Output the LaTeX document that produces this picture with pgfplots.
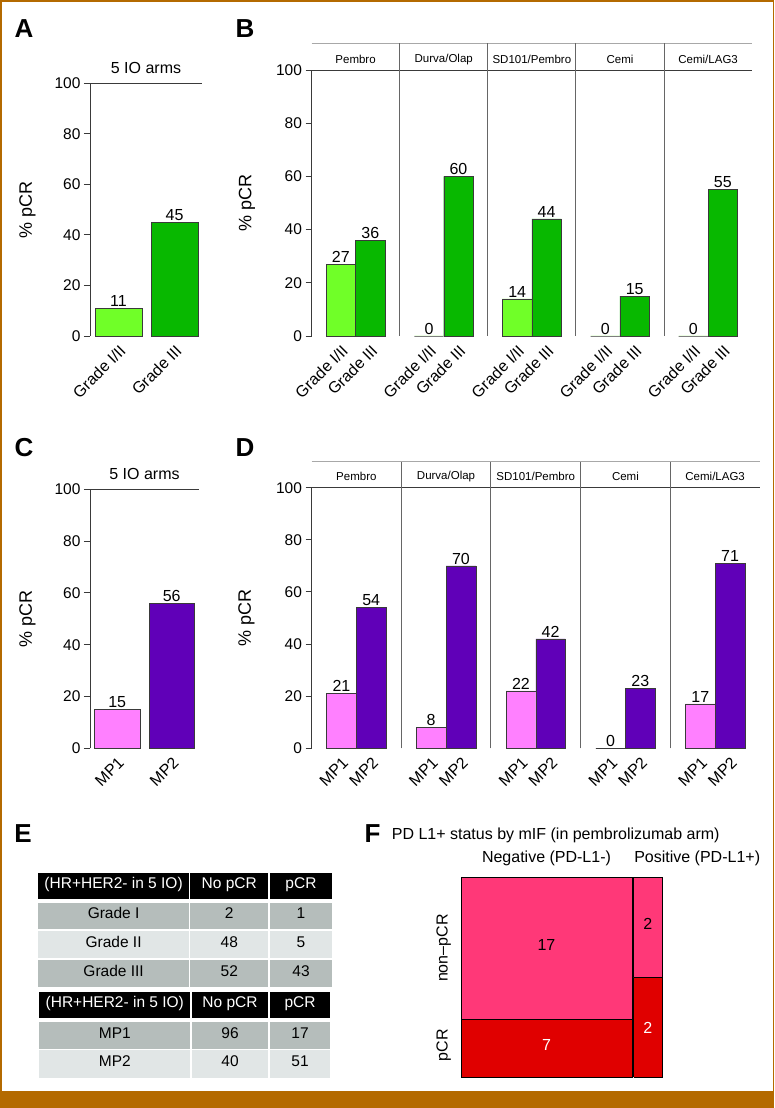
\documentclass[border=0pt]{standalone}
\usepackage{pgfplots}
\pgfplotsset{compat=1.18}
\usepackage{fontspec}
\setmainfont{Liberation Sans}
\newcommand\fs[1]{\fontsize{#1}{#1}\selectfont}
\definecolor{lgreen}{HTML}{70FF28}
\definecolor{dgreen}{HTML}{08B800}
\definecolor{mpink}{HTML}{FF80FF}
\definecolor{mpurple}{HTML}{6000B8}
\definecolor{fpink}{HTML}{FF3878}
\definecolor{fred}{HTML}{E00000}
\definecolor{frame}{HTML}{B46A00}
\definecolor{tdark}{HTML}{B5BDBB}
\definecolor{tlight}{HTML}{E1E6E6}
\definecolor{axgray}{HTML}{3A3A3A}
\definecolor{stripgray}{HTML}{A8A8A8}
\definecolor{sepgray}{HTML}{666666}
\pgfplotsset{
 barbase/.style={
   scale only axis, ymin=0, ymax=100, enlargelimits=false, clip=false,
   axis y line*=left, axis x line*=bottom,
   x axis line style={draw=none},
   y axis line style={draw=axgray, line width=0.9pt},
   ytick={0,20,40,60,80,100},
   tick align=outside,
   major tick length=6pt,
   ytick style={draw=axgray, line width=0.9pt},
   xtick style={draw=none},
   /pgf/number format/assume math mode=true,
   yticklabel style={font=\fs{15.5}},
   xticklabel style={font=\fs{16}, rotate=45, anchor=north east, inner sep=1pt},
   ybar, bar shift=0pt,
   nodes near coords,
   every node near coord/.append style={font=\fs{16}, inner sep=1.5pt},
 },
}
\begin{document}
\begin{tikzpicture}[x=1pt,y=1pt]
\useasboundingbox (0,0) rectangle (774,1108);
\fill[white] (0,0) rectangle (774,1108);
\fill[frame] (0,0) rectangle (774,17.3);
\fill[frame] (0,0) rectangle (1.6,1108);
\fill[frame] (772.5,0) rectangle (774,1108);
\fill[frame] (0,1106.4) rectangle (774,1108);

% panel letters
\node[font=\fs{26}\bfseries] at (24,1079.5) {A};
\node[font=\fs{26}\bfseries] at (245,1079.5) {B};
\node[font=\fs{26}\bfseries] at (24,660.5) {C};
\node[font=\fs{26}\bfseries] at (245,660.5) {D};
\node[font=\fs{26}\bfseries] at (23,274) {E};
\node[font=\fs{26}\bfseries] at (372.5,274) {F};

% ---------------- A
\begin{axis}[barbase, at={(90pt,772pt)}, anchor=south west, width=112pt, height=252.7pt,
  xmin=0.491, xmax=2.491, bar width=0.839, xtick={1,2}, xticklabels={Grade I/II, Grade III},
  every axis y label/.style={at={(axis description cs:-0.558,0.5)}, rotate=90, anchor=center, font=\fs{18}},
  ylabel={\% pCR}]
\addplot[fill=lgreen, draw=axgray] coordinates {(1,11)};
\addplot[fill=dgreen, draw=axgray] coordinates {(2,45)};
\draw[axgray, line width=0.9pt] (axis cs:0.491,100) -- (axis cs:2.491,100);
\node[font=\fs{16}, anchor=base] at (axis cs:1.491,103.8) {5 IO arms};
\end{axis}

% ---------------- B
\begin{axis}[barbase, at={(311.5pt,772pt)}, anchor=south west, width=440.7pt, height=266pt,
  xmin=-0.5, xmax=4.5, bar width=0.3336,
  xtick={-0.1668,0.1668,0.8332,1.1668,1.8332,2.1668,2.8332,3.1668,3.8332,4.1668},
  xticklabels={Grade I/II,Grade III,Grade I/II,Grade III,Grade I/II,Grade III,Grade I/II,Grade III,Grade I/II,Grade III},
  every axis y label/.style={at={(axis description cs:-0.1464,0.5)}, rotate=90, anchor=center, font=\fs{18}},
  ylabel={\% pCR}]
\addplot[fill=lgreen, draw=axgray] coordinates {(-0.1668,27) (0.8332,0) (1.8332,14) (2.8332,0) (3.8332,0)};
\addplot[fill=dgreen, draw=axgray] coordinates {(0.1668,36) (1.1668,60) (2.1668,44) (3.1668,15) (4.1668,55)};
\draw[stripgray, line width=1.2pt] (axis cs:-0.5,110) -- (axis cs:4.5,110);
\draw[axgray, line width=0.9pt] (axis cs:-0.5,100) -- (axis cs:4.5,100);
\draw[sepgray, line width=0.9pt] (axis cs:0.5,0) -- (axis cs:0.5,110);
\draw[sepgray, line width=0.9pt] (axis cs:1.5,0) -- (axis cs:1.5,110);
\draw[sepgray, line width=0.9pt] (axis cs:2.5,0) -- (axis cs:2.5,110);
\draw[sepgray, line width=0.9pt] (axis cs:3.5,0) -- (axis cs:3.5,110);
\node[font=\fs{11.5}] at (axis cs:0,103.9) {Pembro};
\node[font=\fs{11.5}] at (axis cs:1,103.9) {Durva/Olap};
\node[font=\fs{11.5}] at (axis cs:2,103.9) {SD101/Pembro};
\node[font=\fs{11.5}] at (axis cs:3,103.9) {Cemi};
\node[font=\fs{11.5}] at (axis cs:4,103.9) {Cemi/LAG3};
\end{axis}

% ---------------- C
\begin{axis}[barbase, at={(90pt,359.7pt)}, anchor=south west, width=109pt, height=259pt,
  xmin=0.501, xmax=2.501, bar width=0.8385, xtick={1,2}, xticklabels={MP1, MP2},
  every axis y label/.style={at={(axis description cs:-0.573,0.5)}, rotate=90, anchor=center, font=\fs{18}},
  ylabel={\% pCR}]
\addplot[fill=mpink, draw=axgray] coordinates {(1,15)};
\addplot[fill=mpurple, draw=axgray] coordinates {(2,56)};
\draw[axgray, line width=0.9pt] (axis cs:0.501,100) -- (axis cs:2.501,100);
\node[font=\fs{16}, anchor=base] at (axis cs:1.501,103.6) {5 IO arms};
\end{axis}

% ---------------- D
\begin{axis}[barbase, at={(311.5pt,359.7pt)}, anchor=south west, width=448.5pt, height=260.6pt,
  xmin=-0.5, xmax=4.5, bar width=0.331,
  xtick={-0.1656,0.1656,0.8344,1.1656,1.8344,2.1656,2.8344,3.1656,3.8344,4.1656},
  xticklabels={MP1,MP2,MP1,MP2,MP1,MP2,MP1,MP2,MP1,MP2},
  every axis y label/.style={at={(axis description cs:-0.145,0.5)}, rotate=90, anchor=center, font=\fs{18}},
  ylabel={\% pCR}]
\addplot[fill=mpink, draw=axgray] coordinates {(-0.1656,21) (0.8344,8) (1.8344,22) (2.8344,0) (3.8344,17)};
\addplot[fill=mpurple, draw=axgray] coordinates {(0.1656,54) (1.1656,70) (2.1656,42) (3.1656,23) (4.1656,71)};
\draw[stripgray, line width=1.2pt] (axis cs:-0.5,110) -- (axis cs:4.5,110);
\draw[axgray, line width=0.9pt] (axis cs:-0.5,100) -- (axis cs:4.5,100);
\draw[sepgray, line width=0.9pt] (axis cs:0.5,0) -- (axis cs:0.5,110);
\draw[sepgray, line width=0.9pt] (axis cs:1.5,0) -- (axis cs:1.5,110);
\draw[sepgray, line width=0.9pt] (axis cs:2.5,0) -- (axis cs:2.5,110);
\draw[sepgray, line width=0.9pt] (axis cs:3.5,0) -- (axis cs:3.5,110);
\node[font=\fs{11.5}] at (axis cs:0,104.2) {Pembro};
\node[font=\fs{11.5}] at (axis cs:1,104.2) {Durva/Olap};
\node[font=\fs{11.5}] at (axis cs:2,104.2) {SD101/Pembro};
\node[font=\fs{11.5}] at (axis cs:3,104.2) {Cemi};
\node[font=\fs{11.5}] at (axis cs:4,104.2) {Cemi/LAG3};
\end{axis}

% ---------------- E (table)
\begin{scope}[shift={(0,1108)}, y=-1pt, every node/.style={font=\fs{15.5}, anchor=mid}]
  \fill[black] (38.3,873.3) rectangle (189,899.3);
  \fill[black] (190.3,873.3) rectangle (268.3,899.3);
  \fill[black] (269.7,873.3) rectangle (332.3,899.3);
  \node[white] at (113.6,886.3) {(HR+HER2- in 5 IO)};
  \node[white] at (229.3,886.3) {No pCR};
  \node[white] at (301,886.3) {pCR};
  \fill[tdark] (38.3,903.3) rectangle (189,929.3);
  \fill[tdark] (190.3,903.3) rectangle (268.3,929.3);
  \fill[tdark] (269.7,903.3) rectangle (332.3,929.3);
  \fill[tlight] (38.3,931) rectangle (189,958.3);
  \fill[tlight] (190.3,931) rectangle (268.3,958.3);
  \fill[tlight] (269.7,931) rectangle (332.3,958.3);
  \fill[tdark] (38.3,960) rectangle (189,987.3);
  \fill[tdark] (190.3,960) rectangle (268.3,987.3);
  \fill[tdark] (269.7,960) rectangle (332.3,987.3);
  \node at (113.6,916.3) {Grade I};   \node at (229.3,916.3) {2};  \node at (301,916.3) {1};
  \node at (113.6,944.6) {Grade II};  \node at (229.3,944.6) {48}; \node at (301,944.6) {5};
  \node at (113.6,973.6) {Grade III}; \node at (229.3,973.6) {52}; \node at (301,973.6) {43};
  \fill[black] (39.3,991.7) rectangle (190.3,1018.3);
  \fill[black] (191.7,991.7) rectangle (268.3,1018.3);
  \fill[black] (269.7,991.7) rectangle (330,1018.3);
  \node[white] at (114.8,1005) {(HR+HER2- in 5 IO)};
  \node[white] at (230,1005) {No pCR};
  \node[white] at (300,1005) {pCR};
  \fill[tdark] (39.3,1022.3) rectangle (190.3,1048.7);
  \fill[tdark] (191.7,1022.3) rectangle (268.3,1048.7);
  \fill[tdark] (269.7,1022.3) rectangle (330,1048.7);
  \fill[tlight] (39.3,1050) rectangle (190.3,1077.7);
  \fill[tlight] (191.7,1050) rectangle (268.3,1077.7);
  \fill[tlight] (269.7,1050) rectangle (330,1077.7);
  \node at (114.8,1035.5) {MP1}; \node at (230,1035.5) {96}; \node at (300,1035.5) {17};
  \node at (114.8,1063.8) {MP2}; \node at (230,1063.8) {40}; \node at (300,1063.8) {51};
\end{scope}

% ---------------- F (mosaic)
\begin{axis}[at={(461pt,30.7pt)}, anchor=south west, scale only axis, width=201pt, height=200pt,
  xmin=0, xmax=28.22, ymin=0, ymax=1, hide axis, clip=false]
\addplot[fill=fred, draw=black, line width=0.7pt, mark=none] coordinates {(0,0) (24,0) (24,0.2917) (0,0.2917) (0,0)};
\addplot[fill=fpink, draw=black, line width=0.7pt, mark=none] coordinates {(0,0.2917) (24,0.2917) (24,1) (0,1) (0,0.2917)};
\addplot[fill=fred, draw=black, line width=0.7pt, mark=none] coordinates {(24.22,0) (28.22,0) (28.22,0.5) (24.22,0.5) (24.22,0)};
\addplot[fill=fpink, draw=black, line width=0.7pt, mark=none] coordinates {(24.22,0.5) (28.22,0.5) (28.22,1) (24.22,1) (24.22,0.5)};
\node[font=\fs{16}, anchor=mid] at (axis cs:12,0.646) {17};
\node[font=\fs{16}, anchor=mid, white] at (axis cs:12,0.146) {7};
\node[font=\fs{16}, anchor=mid] at (axis cs:26.22,0.75) {2};
\node[font=\fs{16}, anchor=mid, white] at (axis cs:26.22,0.23) {2};
\node[font=\fs{16}, rotate=90, anchor=mid] at (axis cs:-2.25,0.646) {non–pCR};
\node[font=\fs{16}, rotate=90, anchor=mid] at (axis cs:-2.25,0.16) {pCR};
\node[font=\fs{16}, anchor=mid] at (axis cs:12,1.0865) {Negative (PD-L1-)};
\node[font=\fs{16}, anchor=mid west, inner sep=0pt] at (axis cs:24.3,1.0865) {Positive (PD-L1+)};
\node[font=\fs{16}, anchor=mid west, inner sep=0pt] at (axis cs:-9.73,1.2) {PD L1+ status by mIF (in pembrolizumab arm)};
\end{axis}
\end{tikzpicture}
\end{document}
